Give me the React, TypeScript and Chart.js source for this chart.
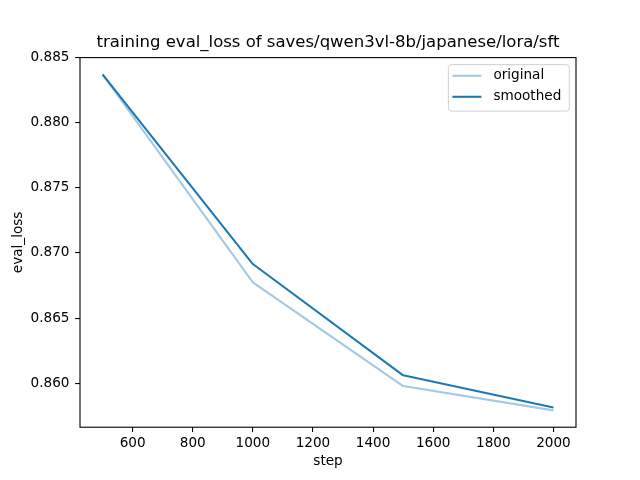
import React, { useEffect, useRef } from "react";
import { Chart, ChartConfiguration, Plugin } from "chart.js/auto";

const steps = [500, 1000, 1500, 2000];
const originalLoss = [0.8837, 0.86775, 0.85979, 0.85792];
const smoothedLoss = [0.8837, 0.86915, 0.86061, 0.85814];
const xTicks = [600, 800, 1000, 1200, 1400, 1600, 1800, 2000];
const yTicks = [0.86, 0.865, 0.87, 0.875, 0.88, 0.885];

const titleText = "training eval_loss of saves/qwen3vl-8b/japanese/lora/sft";
const blue = "#1f77b4";
const lightBlue = "rgba(31,119,180,0.4)";
const FONT = "DejaVu Sans";
const SMALL = 13.6;

// matplotlib style: 5% margins around the data
const pad = (lo: number, hi: number) => {
  const d = hi - lo;
  return [lo - d * 0.05, hi + d * 0.05];
};
const [xMin, xMax] = pad(Math.min(...steps), Math.max(...steps));
const allY = [...originalLoss, ...smoothedLoss];
const [yMin, yMax] = pad(Math.min(...allY), Math.max(...allY));

// full axes frame like matplotlib spines
const framePlugin: Plugin<"line"> = {
  id: "frame",
  afterDatasetsDraw(chart) {
    const { ctx, chartArea } = chart;
    ctx.save();
    ctx.strokeStyle = "#000";
    ctx.lineWidth = 1.1;
    ctx.strokeRect(chartArea.left, chartArea.top, chartArea.right - chartArea.left, chartArea.bottom - chartArea.top);
    ctx.restore();
  },
};

// legend drawn inside the plot, upper right
const insideLegend: Plugin<"line"> = {
  id: "insideLegend",
  afterDraw(chart) {
    const { ctx, chartArea } = chart;
    const sets = chart.data.datasets;
    ctx.save();
    ctx.font = `${SMALL}px "${FONT}"`;
    const textW = Math.max(...sets.map((s) => ctx.measureText(String(s.label)).width));
    const w = 4 + 29 + 12 + textW + 8;
    const h = 46.5;
    const right = chartArea.right - 6.7;
    const top = chartArea.top + 7;
    const left = right - w;
    ctx.beginPath();
    ctx.roundRect(left, top, w, h, 3);
    ctx.fillStyle = "rgba(255,255,255,0.8)";
    ctx.fill();
    ctx.strokeStyle = "rgba(204,204,204,0.9)";
    ctx.lineWidth = 1;
    ctx.stroke();
    sets.forEach((s, i) => {
      const y = top + 11.2 + i * 21;
      ctx.beginPath();
      ctx.moveTo(left + 4, y);
      ctx.lineTo(left + 33, y);
      ctx.strokeStyle = String(s.borderColor);
      ctx.lineWidth = 2.08;
      ctx.stroke();
      ctx.fillStyle = "#000";
      ctx.textBaseline = "middle";
      ctx.textAlign = "left";
      ctx.fillText(String(s.label), left + 45, y);
    });
    ctx.restore();
  },
};

const App: React.FC = () => {
  const canvasRef = useRef<HTMLCanvasElement | null>(null);
  const chartRef = useRef<Chart<"line"> | null>(null);

  useEffect(() => {
    const ctx = canvasRef.current?.getContext("2d");
    if (!ctx) return;
    Chart.defaults.font.family = FONT;
    Chart.defaults.color = "#000";

    const tickGrid = {
      drawOnChartArea: false,
      drawTicks: true,
      tickLength: 4.9,
      color: "#000",
      lineWidth: 1.1,
    };

    const config: ChartConfiguration<"line"> = {
      type: "line",
      data: {
        datasets: [
          {
            label: "original",
            data: steps.map((s, i) => ({ x: s, y: originalLoss[i] })),
            borderColor: lightBlue,
            borderWidth: 2.08,
            pointRadius: 0,
            tension: 0,
            order: 1,
            borderJoinStyle: "round",
          },
          {
            label: "smoothed",
            data: steps.map((s, i) => ({ x: s, y: smoothedLoss[i] })),
            borderColor: blue,
            borderWidth: 2.08,
            pointRadius: 0,
            tension: 0,
            order: 0,
            borderJoinStyle: "round",
          },
        ],
      },
      options: {
        animation: false,
        responsive: false,
        devicePixelRatio: 1,
        layout: { padding: { left: 0, right: 64, top: 0, bottom: 0 } },
        plugins: {
          legend: { display: false },
          tooltip: { enabled: false },
          title: {
            display: true,
            text: titleText,
            fullSize: false,
            color: "#000",
            font: { size: 16.5, weight: "normal", family: FONT },
            padding: { top: 32.6, bottom: 5.2 },
          },
        },
        scales: {
          x: {
            type: "linear",
            min: xMin,
            max: xMax,
            grid: tickGrid,
            border: { display: false },
            afterBuildTicks: (s) => {
              s.ticks = xTicks.map((v) => ({ value: v }));
            },
            afterFit: (s) => {
              s.height = 52.8;
            },
            ticks: {
              padding: 3,
              maxRotation: 0,
              autoSkip: false,
              font: { size: SMALL },
              callback: (v) => String(v),
            },
            title: {
              display: true,
              text: "step",
              font: { size: SMALL },
              padding: { top: 0, bottom: 10 },
            },
          },
          y: {
            type: "linear",
            min: yMin,
            max: yMax,
            grid: tickGrid,
            border: { display: false },
            afterBuildTicks: (s) => {
              s.ticks = yTicks.map((v) => ({ value: v }));
            },
            afterFit: (s) => {
              s.width = 80;
            },
            ticks: {
              padding: 5.6,
              autoSkip: false,
              font: { size: SMALL },
              callback: (v) => Number(v).toFixed(3),
            },
            title: {
              display: true,
              text: "eval_loss",
              font: { size: SMALL },
              padding: { top: 10.4, bottom: 0 },
            },
          },
        },
      },
      plugins: [framePlugin, insideLegend],
    };

    if (chartRef.current) chartRef.current.destroy();
    chartRef.current = new Chart(ctx, config);

    return () => {
      if (chartRef.current) {
        chartRef.current.destroy();
        chartRef.current = null;
      }
    };
  }, []);

  return (
    <div style={{ position: "absolute", left: 0, top: 0, width: 640, height: 480, background: "#fff" }}>
      <canvas ref={canvasRef} width={640} height={480}></canvas>
    </div>
  );
};

export default App;
